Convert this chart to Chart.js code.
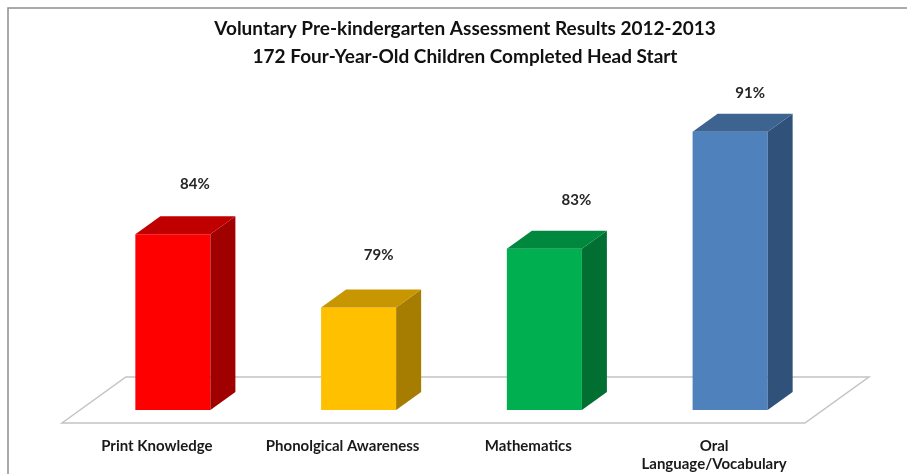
<!DOCTYPE html>
<html>
<head>
<meta charset="utf-8">
<title>Voluntary Pre-kindergarten Assessment Results 2012-2013</title>
<script src="https://cdn.jsdelivr.net/npm/chart.js@4.4.1/dist/chart.umd.min.js"></script>
<style>
  html, body { margin: 0; padding: 0; background: #fff; }
  #wrap { width: 907px; height: 474px; }
</style>
</head>
<body>
<div id="wrap"><canvas id="vpkChart" width="907" height="474"></canvas></div>
<script>
// Assessment results, share of children meeting the benchmark (%)
const categories = ['Print Knowledge', 'Phonolgical Awareness', 'Mathematics', ['Oral', 'Language/Vocabulary']];
const percentMet = [84, 79, 83, 91];
const titleLines = [
    'Voluntary Pre-kindergarten Assessment Results 2012-2013',
    '172 Four-Year-Old Children Completed Head Start'
];
const axisMin = 72;
const axisMax = 92;

// box faces: front / top / right side
const frontColors = ['#FF0000', '#FFC000', '#00B050', '#4F81BD'];
const topColors = ['#C00000', '#C89600', '#00893E', '#3D6491'];
const sideColors = ['#A00000', '#A67D00', '#006F31', '#30527A'];
const labelShift = [[22, -50], [20, -52], [32, -49], [20, -38]];

const DEPTH_X = 25, DEPTH_Y = 18;
const SLANT = DEPTH_X / DEPTH_Y;
const FONT = 'Lato, "Open Sans", sans-serif';

function poly(ctx, pts, fill, stroke) {
    ctx.beginPath();
    ctx.moveTo(pts[0][0], pts[0][1]);
    for (let i = 1; i < pts.length; i++) ctx.lineTo(pts[i][0], pts[i][1]);
    ctx.closePath();
    if (fill) { ctx.fillStyle = fill; ctx.fill(); }
    if (stroke) { ctx.strokeStyle = stroke; ctx.stroke(); }
}

// frame + floor under the bars
const floorPlugin = {
    id: 'floor3d',
    beforeDraw(chart) {
        const ctx = chart.ctx;
        ctx.save();
        ctx.fillStyle = '#fff';
        ctx.fillRect(0, 0, chart.width, chart.height);
        ctx.strokeStyle = '#8f8f8f';
        ctx.lineWidth = 1.5;
        ctx.beginPath();
        ctx.moveTo(8, chart.height);
        ctx.lineTo(8, 8);
        ctx.lineTo(chart.width, 8);
        ctx.stroke();
        ctx.restore();
    },
    beforeDatasetsDraw(chart) {
        const ctx = chart.ctx;
        const { left, right, bottom } = chart.chartArea;
        const front = -13, back = 33;
        ctx.save();
        ctx.lineWidth = 1.5;
        poly(ctx, [
            [left + front * SLANT, bottom - front],
            [left + back * SLANT, bottom - back],
            [right + back * SLANT, bottom - back],
            [right + front * SLANT, bottom - front]
        ], '#fff', '#c3c3c3');
        ctx.restore();
    }
};

// top and side faces, value labels, title
const boxPlugin = {
    id: 'box3d',
    afterDatasetsDraw(chart) {
        const ctx = chart.ctx;
        const meta = chart.getDatasetMeta(0);
        const floorY = chart.chartArea.bottom;
        ctx.save();
        meta.data.forEach((bar, i) => {
            const { x, y, width } = bar.getProps(['x', 'y', 'width'], true);
            const x1 = x - width / 2, x2 = x + width / 2;
            poly(ctx, [[x2, y], [x2 + DEPTH_X, y - DEPTH_Y], [x2 + DEPTH_X, floorY - DEPTH_Y], [x2, floorY]], sideColors[i]);
            poly(ctx, [[x1, y], [x1 + DEPTH_X, y - DEPTH_Y], [x2 + DEPTH_X, y - DEPTH_Y], [x2, y]], topColors[i]);

            ctx.fillStyle = '#262626';
            ctx.font = 'bold 15px ' + FONT;
            ctx.textAlign = 'center';
            ctx.textBaseline = 'middle';
            ctx.fillText(percentMet[i] + '%', x + labelShift[i][0], y + labelShift[i][1]);
        });

        ctx.fillStyle = '#111';
        ctx.font = 'bold 19px ' + FONT;
        ctx.textAlign = 'center';
        ctx.textBaseline = 'middle';
        titleLines.forEach((line, k) => ctx.fillText(line, 465, 29 + k * 28));
        ctx.restore();
    }
};

new Chart(document.getElementById('vpkChart'), {
    type: 'bar',
    data: {
        labels: categories,
        datasets: [{
            data: percentMet,
            backgroundColor: frontColors,
            borderWidth: 0,
            categoryPercentage: 1,
            barPercentage: 0.404
        }]
    },
    options: {
        responsive: false,
        animation: false,
        layout: { padding: { top: 117, left: 80, right: 84, bottom: 0 } },
        plugins: {
            legend: { display: false },
            tooltip: { enabled: false }
        },
        scales: {
            x: {
                grid: { display: false, drawTicks: false },
                border: { display: false },
                ticks: {
                    padding: 27,
                    labelOffset: -16,
                    maxRotation: 0,
                    autoSkip: false,
                    color: '#1a1a1a',
                    font: { family: FONT, weight: 'bold', size: 15, lineHeight: 1.2 }
                },
                afterFit(scale) { scale.height = 64; }
            },
            y: { display: false, min: axisMin, max: axisMax }
        }
    },
    plugins: [floorPlugin, boxPlugin]
});
</script>
</body>
</html>
